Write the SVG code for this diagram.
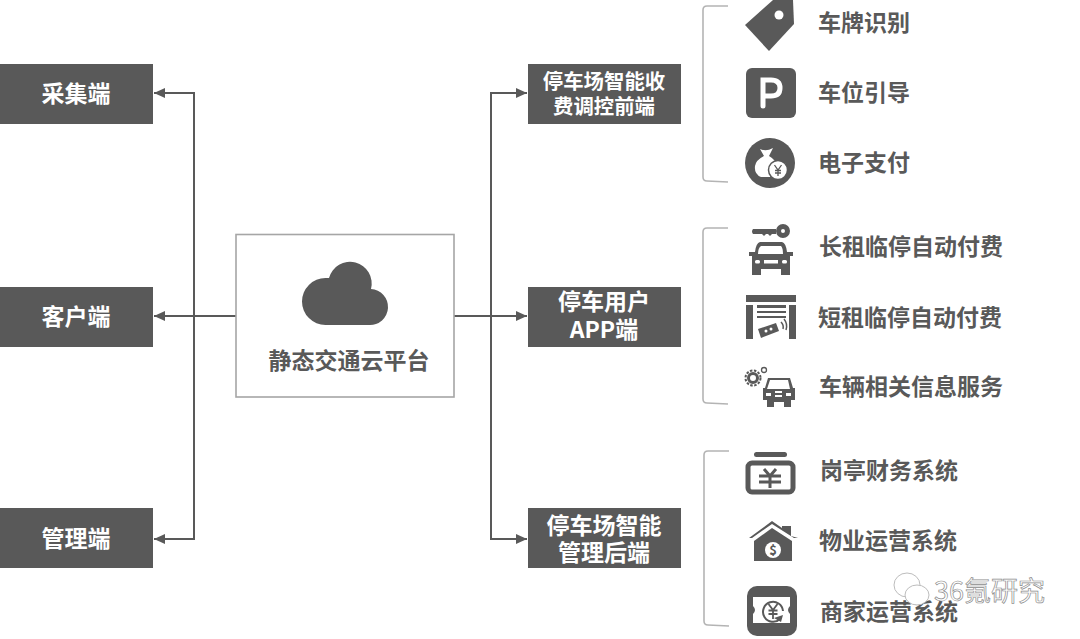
<svg xmlns="http://www.w3.org/2000/svg" width="1080" height="639" viewBox="0 0 1080 639">
<style>
text{font-family:"Noto Sans CJK SC","Liberation Sans",sans-serif;font-weight:700;fill:#595959}
.box{fill:#595959}
.bt{fill:#fff;font-size:23px;text-anchor:middle}
.bs{font-size:20.400px}
.it{font-size:23px}
.i{fill:#595959}
.w{fill:#fff}
.con{fill:none;stroke:#595959;stroke-width:2}
.br{fill:none;stroke:#b4b4b4;stroke-width:1.600}
</style>
<defs><marker id="a" markerUnits="userSpaceOnUse" markerWidth="12" markerHeight="12" refX="11" refY="6" orient="auto"><path d="M0 1L11 6L0 11Z" fill="#595959"/></marker></defs>
<rect width="1080" height="639" fill="#fff"/>
<g id="connectors">
<path class="con" d="M236 316H154" marker-end="url(#a)"/>
<path class="con" d="M194 316V93H154" marker-end="url(#a)"/>
<path class="con" d="M194 316V539H154" marker-end="url(#a)"/>
<path class="con" d="M454 316H527" marker-end="url(#a)"/>
<path class="con" d="M491 316V93H527" marker-end="url(#a)"/>
<path class="con" d="M491 316V539H527" marker-end="url(#a)"/>
</g>
<g id="brackets">
<path class="br" d="M728 6H707Q703 6 703 10V177Q703 181 707 181L728 182"/>
<path class="br" d="M728 228H707Q703 228 703 232V399Q703 403 707 403L728 404"/>
<path class="br" d="M729 451H708Q704 451 704 455V621Q704 625 708 625L729 626"/>
</g>
<g id="n-collect"><rect class="box" x="0" y="64" width="153" height="60"/><text class="bt" x="76" y="102">采集端</text></g>
<g id="n-client"><rect class="box" x="0" y="287" width="153" height="60"/><text class="bt" x="76" y="325">客户端</text></g>
<g id="n-manage"><rect class="box" x="0" y="508" width="153" height="60"/><text class="bt" x="76" y="547">管理端</text></g>
<g id="n-cloud">
<rect x="236" y="234.500" width="218" height="162.500" fill="#fff" stroke="#a6a6a6" stroke-width="1.600"/>
<path class="i" d="M325.500 325A23.500 23.500 0 0 1 325.500 278Q328 278 329 278A21.500 21.500 0 0 1 371 289A18 18 0 0 1 369 325Z"/>
<text x="349" y="369" text-anchor="middle" style="font-size:23px">静态交通云平台</text>
</g>
<g id="n-fee"><rect class="box" x="528" y="64" width="153" height="60"/><text class="bt bs" x="604" y="89">停车场智能收<tspan x="604" dy="25">费调控前端</tspan></text></g>
<g id="n-app"><rect class="box" x="528" y="287" width="153" height="60"/><text class="bt" x="604" y="310">停车用户<tspan x="604" dy="28">APP端</tspan></text></g>
<g id="n-back"><rect class="box" x="528" y="508" width="153" height="60"/><text class="bt" x="604" y="534">停车场智能<tspan x="604" dy="27">管理后端</tspan></text></g>
<g id="i1"><path class="i" d="M745 25L773 0H793L794 24L769 51Z"/><circle class="w" cx="779" cy="15" r="4.500"/><text class="it" x="818" y="31">车牌识别</text></g>
<g id="i2"><rect class="i" x="746" y="68" width="50" height="50" rx="6"/><path d="M763 106V80H771Q780 80 780 88Q780 96 771 96H763" fill="none" stroke="#fff" stroke-width="5" stroke-linecap="round"/><text class="it" x="818" y="101">车位引导</text></g>
<g id="i3"><circle class="i" cx="770" cy="163" r="25"/><path class="w" d="M760 149Q766 152 773 148L769 156Q776 160 777 166L770 177H761Q754 174 755 166Q756 160 764 156Z"/><circle class="w" cx="778" cy="170" r="9.500" stroke="#595959" stroke-width="1.500"/><circle cx="778" cy="170" r="7.500" fill="none" stroke="#fff"/><path d="M774.500 165L778 170L781.500 165M775 170.500H781M775 173H781M778 170V176" fill="none" stroke="#595959" stroke-width="1.300"/><text class="it" x="818" y="171">电子支付</text></g>
<g id="i4"><path class="i" d="M753 229H776V234H772L770 236L768 234H766L764 236L762 234H753Q751 231.500 753 229Z"/><circle cx="783" cy="231" r="4.500" fill="none" stroke="#595959" stroke-width="5"/><path class="i" d="M760 242H782Q786 243 787 252H793V256H790V268H790V275H781V269H761V275H752V268H752V256H749V252H755Q756 243 760 242Z"/><path class="w" d="M761 246H781Q783 248 783 254H758Q758 248 761 246Z"/><rect class="w" x="755" y="260" width="5" height="3.500" rx="1.500"/><rect class="w" x="764" y="260" width="14" height="3.500"/><rect class="w" x="782" y="260" width="5" height="3.500" rx="1.500"/><text class="it" x="819" y="255">长租临停自动付费</text></g>
<g id="i5"><rect class="i" x="746" y="295" width="50" height="7"/><rect class="i" x="746" y="305" width="7" height="34"/><rect class="i" x="789" y="305" width="7" height="34"/><rect class="i" x="757" y="305" width="29" height="3"/><rect class="i" x="757" y="311" width="29" height="2"/><rect class="i" x="757" y="316" width="29" height="2"/><path class="i" d="M758 329L776 323L779 331L761 338Z"/><circle class="w" cx="766" cy="331" r="1.500"/><circle class="w" cx="771" cy="329" r="1.500"/><path d="M781 322Q784 325 783 329M784 319Q788 324 786 330" fill="none" stroke="#595959" stroke-width="1.500"/><text class="it" x="818" y="326">短租临停自动付费</text></g>
<g id="i6"><circle cx="753" cy="378" r="7.500" fill="none" stroke="#595959" stroke-width="2" stroke-dasharray="2.500 1.500"/><circle cx="753" cy="378" r="4.500" fill="none" stroke="#595959" stroke-width="3"/><circle cx="764" cy="370" r="2.500" fill="none" stroke="#595959" stroke-width="1.300"/><path class="i" d="M768 378H790L793 388H795V400H791V407H784V402H774V407H767V400H763V388H765Z"/><path class="w" d="M770 380H788L790 389H767Z"/><rect class="w" x="766" y="393" width="5" height="3"/><rect class="w" x="775" y="391" width="7" height="2"/><rect class="w" x="775" y="395" width="7" height="2"/><rect class="w" x="786" y="393" width="5" height="3"/><text class="it" x="819" y="395">车辆相关信息服务</text></g>
<g id="i7"><rect class="i" x="754" y="452" width="33" height="5" rx="2.500"/><rect x="748" y="463" width="45" height="29" rx="4" fill="none" stroke="#595959" stroke-width="5"/><path d="M764 469L770 476L776 469M759 476H781M759 482H781M770 476V488" fill="none" stroke="#595959" stroke-width="3"/><text class="it" x="820" y="479">岗亭财务系统</text></g>
<g id="i8"><path class="i" d="M749 538L772 521L782 528V526H791V536L798 538H794L772 524L752 538Z"/><path class="i" d="M772 528L792 541V561H754V541Z"/><circle class="w" cx="773" cy="550" r="8"/><text x="773" y="555" text-anchor="middle" style="font-size:13px">$</text><text class="it" x="819" y="549">物业运营系统</text></g>
<g id="i9"><rect class="i" x="747" y="586" width="50" height="50" rx="10"/><path class="w" d="M753 597H790V606Q786 610 790 614V623H753V614Q757 610 753 606Z"/><path d="M780 619A10 10 0 1 1 783 611" fill="none" stroke="#595959" stroke-width="2"/><path d="M774 618L781 622L783 615Z" class="i"/><path d="M768.500 604L773 610L777.500 604M768.500 610.500H777.500M768.500 614H777.500M773 610V619" fill="none" stroke="#595959" stroke-width="1.800"/><text class="it" x="820" y="620">商家运营系统</text></g>
<g id="watermark">
<ellipse cx="907" cy="585" rx="13" ry="12" fill="#fff" fill-opacity="0.850" stroke="#bdbdbd"/>
<ellipse cx="917" cy="595" rx="12" ry="10" fill="#fff" stroke="#bdbdbd"/>
<text x="934" y="601" style="font-size:27px;font-weight:400;fill:#fff;stroke:#8c8c8c;stroke-width:0.700">36氪研究</text>
</g>
</svg>
